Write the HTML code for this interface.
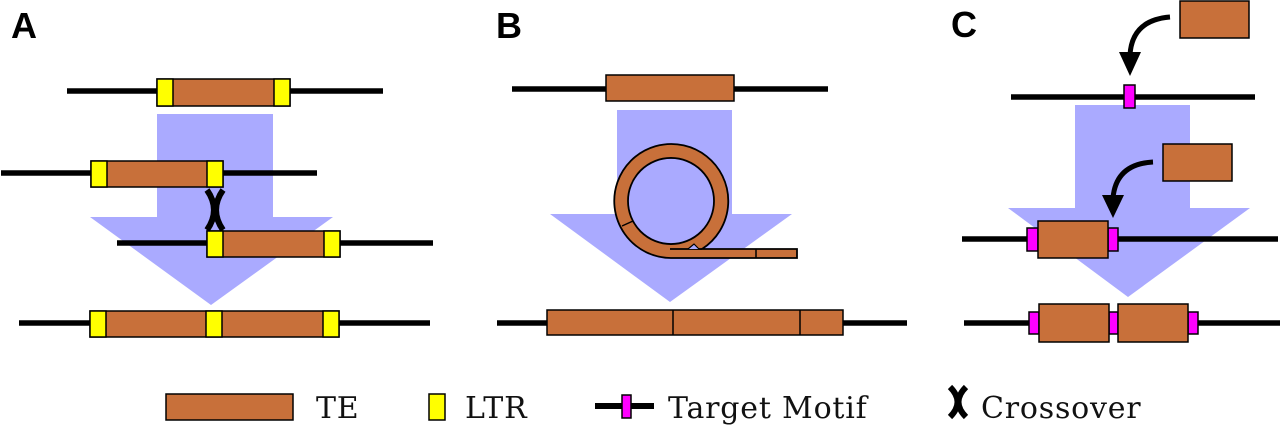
<!DOCTYPE html>
<html>
<head>
<meta charset="utf-8">
<style>
  html,body{margin:0;padding:0;background:#fff;}
  svg{display:block;}
  .lbl{font-family:"Liberation Sans","DejaVu Sans",sans-serif;font-weight:bold;font-size:36px;fill:#000;}
  .leg{font-family:"DejaVu Serif","Liberation Serif",serif;font-size:30px;letter-spacing:0.8px;fill:#111;}
</style>
</head>
<body>
<svg width="1280" height="426" viewBox="0 0 1280 426" xmlns="http://www.w3.org/2000/svg">
  <rect width="1280" height="426" fill="#fff"/>

  <!-- Labels -->
  <text class="lbl" x="11" y="38">A</text>
  <text class="lbl" x="496" y="38">B</text>
  <text class="lbl" x="951" y="37">C</text>

  <!-- ===== Panel A ===== -->
  <polygon points="157,114 273,114 273,217 333,217 211,305 90,217 157,217" fill="#aaaaff"/>
  <g stroke="#000">
    <line x1="67" y1="91" x2="383" y2="91" stroke-width="5.5"/>
    <rect x="157" y="79" width="133" height="27" fill="#c8703a" stroke-width="1.5"/>
    <rect x="157" y="79" width="16" height="27" fill="#ffff00" stroke-width="1.5"/>
    <rect x="274" y="79" width="16" height="27" fill="#ffff00" stroke-width="1.5"/>

    <line x1="1" y1="173" x2="317" y2="173" stroke-width="5.5"/>
    <rect x="91" y="161" width="132" height="26" fill="#c8703a" stroke-width="1.5"/>
    <rect x="91" y="161" width="16" height="26" fill="#ffff00" stroke-width="1.5"/>
    <rect x="207" y="161" width="16" height="26" fill="#ffff00" stroke-width="1.5"/>

    <line x1="117" y1="243" x2="433" y2="243" stroke-width="5.5"/>
    <rect x="207" y="231" width="133" height="26" fill="#c8703a" stroke-width="1.5"/>
    <rect x="207" y="231" width="16" height="26" fill="#ffff00" stroke-width="1.5"/>
    <rect x="324" y="231" width="16" height="26" fill="#ffff00" stroke-width="1.5"/>

    <line x1="19" y1="323" x2="430" y2="323" stroke-width="5.5"/>
    <rect x="90" y="311" width="249" height="26" fill="#c8703a" stroke-width="1.5"/>
    <rect x="90" y="311" width="16" height="26" fill="#ffff00" stroke-width="1.5"/>
    <rect x="206" y="311" width="16" height="26" fill="#ffff00" stroke-width="1.5"/>
    <rect x="323" y="311" width="16" height="26" fill="#ffff00" stroke-width="1.5"/>
  </g>
  <!-- crossover X -->
  <g fill="none" stroke="#000" stroke-width="6">
    <path d="M207,190 Q221,210 207,230"/>
    <path d="M223,190 Q209,210 223,230"/>
  </g>

  <!-- ===== Panel B ===== -->
  <polygon points="617,110 732,110 732,214 792,214 670,302 550,214 617,214" fill="#aaaaff"/>
  <g stroke="#000">
    <line x1="512" y1="89" x2="828" y2="89" stroke-width="5.5"/>
    <rect x="606" y="75" width="128" height="26" fill="#c8703a" stroke-width="1.5"/>

    <path d="M797,258 L671,258 A57,57 0 1 1 702,249 L797,249 Z M714,201 A43,43 0 1 0 628,201 A43,43 0 1 0 714,201 Z"
          fill="#c8703a" fill-rule="evenodd" stroke-width="1.8"/>
    <line x1="670" y1="249" x2="702" y2="249" stroke-width="1.8"/>
    <path d="M688,249 L694,244 L699,249" fill="#aaaaff" stroke-width="1.2"/>
    <line x1="756" y1="249" x2="756" y2="258" stroke-width="1.5"/>
    <line x1="622" y1="226" x2="633" y2="221" stroke-width="1.5"/>

    <line x1="497" y1="323" x2="907" y2="323" stroke-width="5.5"/>
    <rect x="547" y="310" width="296" height="25" fill="#c8703a" stroke-width="1.5"/>
    <line x1="673" y1="310" x2="673" y2="335" stroke-width="1.5"/>
    <line x1="800" y1="310" x2="800" y2="335" stroke-width="1.5"/>
  </g>

  <!-- ===== Panel C ===== -->
  <polygon points="1075,105 1190,105 1190,208 1250,208 1128,297 1008,208 1075,208" fill="#aaaaff"/>
  <g stroke="#000">
    <rect x="1180" y="1" width="69" height="37" fill="#c8703a" stroke-width="1.5"/>
    <path d="M1170,17 Q1132,20 1130,55" fill="none" stroke-width="5"/>
    <polygon points="1119,52 1141,52 1130,76" fill="#000" stroke="none"/>

    <line x1="1011" y1="97" x2="1255" y2="97" stroke-width="5.5"/>
    <rect x="1124" y="85" width="11" height="23" fill="#ff00ff" stroke-width="1.5"/>

    <rect x="1163" y="144" width="69" height="37" fill="#c8703a" stroke-width="1.5"/>
    <path d="M1153,162 Q1116,164 1113,198" fill="none" stroke-width="5"/>
    <polygon points="1102,195 1124,195 1113,218" fill="#000" stroke="none"/>

    <line x1="962" y1="239" x2="1278" y2="239" stroke-width="5.5"/>
    <rect x="1027" y="228" width="11" height="23" fill="#ff00ff" stroke-width="1.5"/>
    <rect x="1108" y="228" width="10" height="23" fill="#ff00ff" stroke-width="1.5"/>
    <rect x="1038" y="221" width="70" height="37" fill="#c8703a" stroke-width="1.5"/>

    <line x1="964" y1="323" x2="1280" y2="323" stroke-width="5.5"/>
    <rect x="1029" y="312" width="10" height="22" fill="#ff00ff" stroke-width="1.5"/>
    <rect x="1109" y="312" width="9" height="22" fill="#ff00ff" stroke-width="1.5"/>
    <rect x="1188" y="312" width="10" height="22" fill="#ff00ff" stroke-width="1.5"/>
    <rect x="1039" y="304" width="70" height="38" fill="#c8703a" stroke-width="1.5"/>
    <rect x="1118" y="304" width="70" height="38" fill="#c8703a" stroke-width="1.5"/>
  </g>

  <!-- ===== Legend ===== -->
  <g stroke="#000">
    <rect x="166" y="394" width="127" height="26" fill="#c8703a" stroke-width="1.5"/>
    <rect x="429" y="394" width="16" height="26" fill="#ffff00" stroke-width="1.5"/>
    <line x1="595" y1="406" x2="654" y2="406" stroke-width="6"/>
    <rect x="622" y="395" width="9" height="23" fill="#ff00ff" stroke-width="1.5"/>
  </g>
  <g fill="none" stroke="#000" stroke-width="6">
    <path d="M950,387 Q965,402 950,417"/>
    <path d="M966,387 Q951,402 966,417"/>
  </g>
  <text class="leg" x="316" y="418">TE</text>
  <text class="leg" x="465" y="418">LTR</text>
  <text class="leg" x="668" y="418">Target Motif</text>
  <text class="leg" x="981" y="418">Crossover</text>
</svg>
</body>
</html>
